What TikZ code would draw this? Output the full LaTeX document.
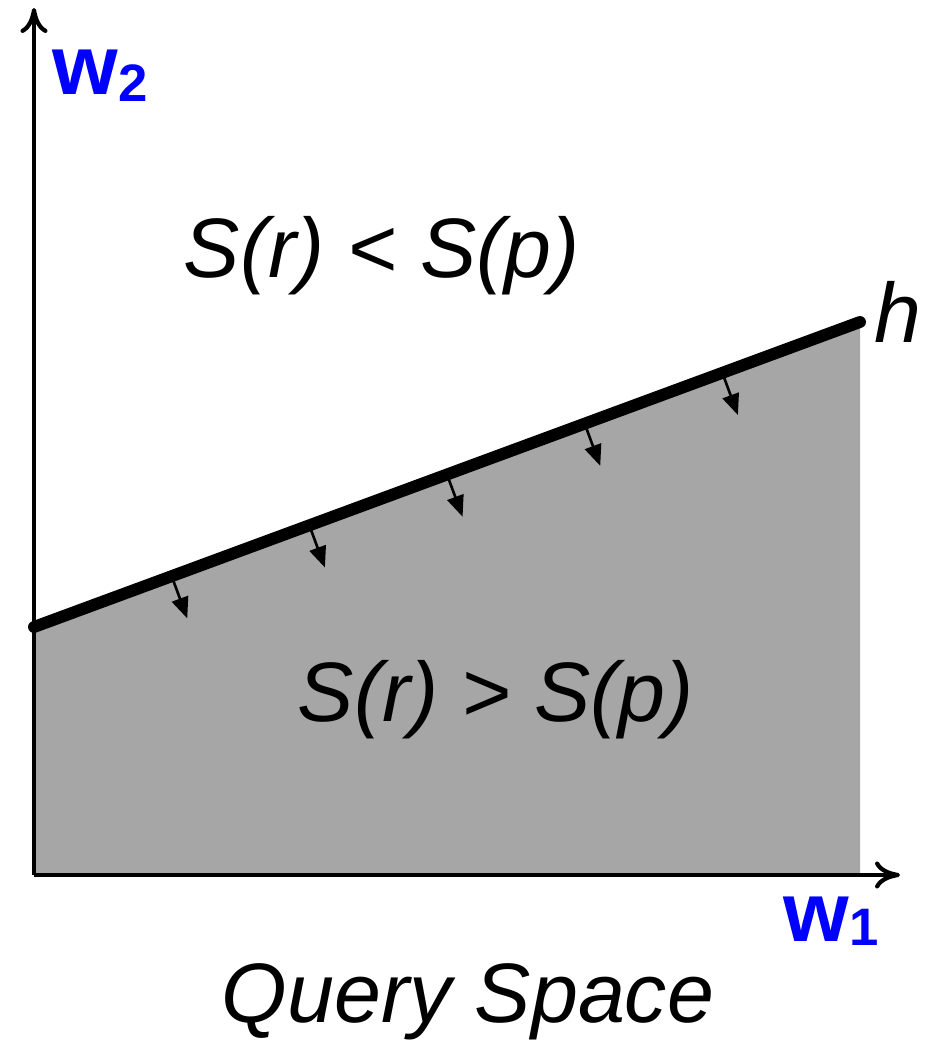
\documentclass[tikz,border=0pt]{standalone}
\usepackage{fontspec}
\setmainfont{Liberation Sans}
\usetikzlibrary{arrows.meta, calc}
\definecolor{regiongray}{HTML}{A6A6A6}
\definecolor{axisblue}{HTML}{0000FF}

\begin{document}
\begin{tikzpicture}[
	ax/.style = {-{Computer Modern Rightarrow[length=2.5mm, width=2.7mm, line width=1.2pt]}, line width=1.0pt},
	hp/.style = {line width=3.4pt, line cap=round},
	nv/.style = {-{Triangle[length=2.1mm, width=1.7mm]}, line width=0.75pt},
	lbl/.style = {font=\fontsize{24}{28}\selectfont\itshape, inner sep=0},
	wl/.style = {font=\fontsize{24}{28}\selectfont\bfseries, text=axisblue, inner sep=0}
	]
	\useasboundingbox (0, 0) rectangle (9.30, 10.42);
	
	% === === === Coordinates === === ===
	\coordinate	(O)	at	(0.34, 1.67);
	\coordinate	(X)	at	(9.00, 1.67);
	\coordinate	(Y)	at	(0.34, 10.34);
	\coordinate	(A)	at	(0.34, 4.15);
	\coordinate	(B)	at	(8.60, 7.20);
	\coordinate	(C)	at	(8.60, 1.67);
	
	
	
	% === === === Region === === ===
	\fill[regiongray] (O) -- (A) -- (B) -- (C) -- cycle;
	
	
	
	% === === === Normals === === ===
	\foreach \k in {1, ..., 5} {
		\coordinate (s\k) at ($(A)!\k/6!(B)$);
		\draw[nv] (s\k) -- ($(s\k)!0.45cm!-90:(B)$);
	}
	
	\draw[hp] (A) -- (B);
	
	
	
	% === === === Axis === === ===
	\draw[ax] (O) -- (X);
	\draw[ax] (O) -- (Y);
	
	
	
	% === === === Labels === === ===
	\node[wl, anchor=base west]	(w2)	at	(0.52, 9.47)	{w\raisebox{-0.07cm}{\fontsize{15}{15}\selectfont 2}};
	\node[wl, anchor=base west]	(w1)	at	(7.83, 1.00)	{w\raisebox{-0.04cm}{\fontsize{15}{15}\selectfont 1}};
	\node[lbl, anchor=base west]	(h)	at	(8.74, 6.99)	{h};
	\node[lbl, anchor=base]	(up)	at	(3.82, 7.64)	{S(r) < S(p)};
	\node[lbl, anchor=base]	(down)	at	(4.96, 3.20)	{S(r) > S(p)};
	\node[lbl, anchor=base]	(qs)	at	(4.68, 0.20)	{Query Space};
	
\end{tikzpicture}
\end{document}
